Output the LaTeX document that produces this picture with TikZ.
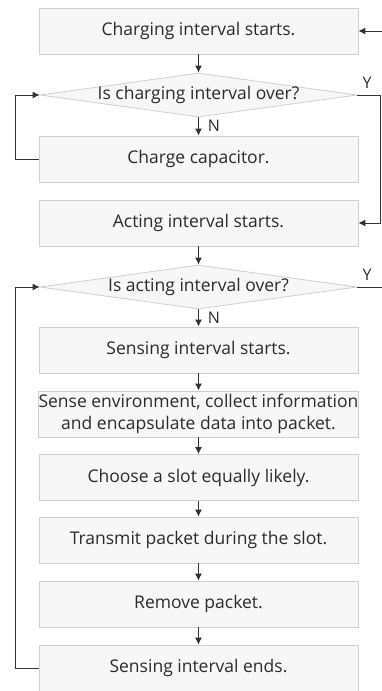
\documentclass[tikz,border=0pt]{standalone}
\usepackage{fontspec}
\setmainfont{Open Sans}
\usetikzlibrary{shapes.geometric,arrows.meta}
\definecolor{boxfill}{HTML}{F7F7F7}
\definecolor{boxline}{HTML}{CFCFCF}
\definecolor{txt}{HTML}{2B2B2B}
\definecolor{wire}{HTML}{333333}
\tikzset{
  stepbox/.style={draw=boxline, fill=boxfill, line width=0.8pt, minimum width=319pt,
    minimum height=46pt, inner sep=0pt, text=txt, font=\fontsize{17.5}{22}\selectfont,
    align=center},
  decision/.style={diamond, draw=boxline, fill=boxfill, line width=0.8pt, aspect=7.2,
    minimum width=317pt, minimum height=44pt, inner sep=0pt, text=txt,
    font=\fontsize{17.5}{22}\selectfont},
  flow/.style={draw=wire, line width=1pt, -{Latex[length=7pt,width=7pt]}},
  plain/.style={draw=wire, line width=1pt},
  tag/.style={text=txt, font=\fontsize{16}{18}\selectfont, inner sep=0pt}
}
\begin{document}
\begin{tikzpicture}[x=1pt,y=-1pt]
  \useasboundingbox (0,0) rectangle (382,691);
  \begin{scope}
    \clip (0,0) rectangle (382,691);
    % process steps
    \node[stepbox] (chs) at (198.5,31) {Charging interval starts.};
    \node[decision] (chq) at (198.5,95) {\makebox[0pt]{Is charging interval over?}};
    \node[stepbox] (cap) at (198.5,159) {Charge capacitor.};
    \node[stepbox] (acs) at (198.5,223) {Acting interval starts.};
    \node[decision] (acq) at (198.5,287) {\makebox[0pt]{Is acting interval over?}};
    \node[stepbox] (ses) at (198.5,350) {Sensing interval starts.};
    \node[stepbox] (sen) at (198.5,414) {Sense environment, collect information\\and encapsulate data into packet.};
    \node[stepbox] (slot) at (198.5,477.5) {Choose a slot equally likely.};
    \node[stepbox] (tx) at (198.5,540) {Transmit packet during the slot.};
    \node[stepbox] (rm) at (198.5,604) {Remove packet.};
    \node[stepbox] (see) at (198.5,668) {Sensing interval ends.};
  \end{scope}

  % free ends at the right margin
  \coordinate (inR) at (382,31);
  \coordinate (outR) at (382,287);

  % main downward flow
  \draw[flow] (chs) -- (chq);
  \draw[flow] (chq) -- (cap);
  \draw[flow] (acs) -- (acq);
  \draw[flow] (acq) -- (ses);
  \draw[flow] (ses) -- (sen);
  \draw[flow] (sen) -- (slot);
  \draw[flow] (slot) -- (tx);
  \draw[flow] (tx) -- (rm);
  \draw[flow] (rm) -- (see);

  % loops back to the decisions
  \draw[flow] (cap.west) -- ++(-23,0) |- (chq.west);
  \draw[flow] (see.west) -- ++(-23,0) |- (acq.west);

  % exits on Y
  \draw[flow] (chq.east) -- (380,95) |- (acs.east);
  \draw[plain] (acq.east) -- (outR);
  \draw[flow] (inR) -- (chs.east);

  % branch labels
  \node[tag] (y1) at (367,83) {Y};
  \node[tag] (y2) at (367,275) {Y};
  \node[tag] (n1) at (214,126) {N};
  \node[tag] (n2) at (214,318) {N};
\end{tikzpicture}
\end{document}
